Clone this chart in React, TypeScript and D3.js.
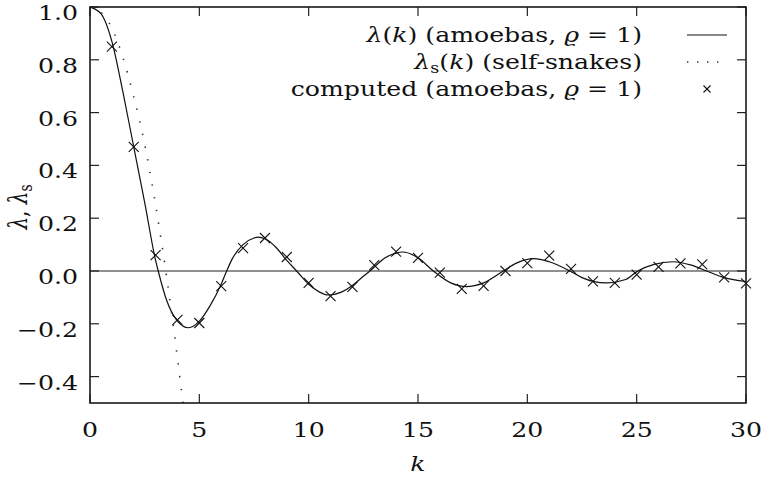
import { useEffect } from "react";
import * as d3 from "d3";

// lambda(k), amoebas, rho = 1 (solid curve)
const lambdaK = [0, 0.5, 1, 1.5, 2, 2.5, 3, 3.12, 3.5, 4, 4.5, 5, 5.5, 6, 6.25, 6.5, 7, 7.5, 7.7, 8, 8.5, 9, 9.45, 10, 10.5, 10.9, 11.5, 12, 12.5, 12.8, 13.5, 14, 14.3, 15, 15.7, 16.5, 17.2, 18, 18.9, 19.5, 20.3, 21, 21.95, 22.5, 23.6, 24.5, 25.05, 25.8, 26.65, 27.5, 28.2, 29, 30];
const lambdaV = [1.0, 0.975, 0.87, 0.68, 0.47, 0.26, 0.04, 0, -0.11, -0.19, -0.215, -0.19, -0.13, -0.05, 0, 0.045, 0.1, 0.125, 0.128, 0.122, 0.09, 0.04, 0, -0.05, -0.08, -0.091, -0.08, -0.055, -0.02, 0, 0.05, 0.068, 0.072, 0.05, 0, -0.045, -0.059, -0.045, 0, 0.03, 0.047, 0.035, 0, -0.025, -0.045, -0.032, 0, 0.025, 0.035, 0.022, 0, -0.025, -0.04];

// lambda_s(k), self-snakes (dotted curve)
const selfK = [0, 0.5, 1, 1.5, 2, 2.5, 3, 3.5, 4, 4.25, 4.4];
const selfV = [1.0, 0.98, 0.92, 0.81, 0.66, 0.48, 0.25, -0.02, -0.33, -0.5, -0.6];

// computed values (crosses)
const compK = [1, 2, 3, 4, 5, 6, 7, 8, 9, 10, 11, 12, 13, 14, 15, 16, 17, 18, 19, 20, 21, 22, 23, 24, 25, 26, 27, 28, 29, 30];
const compV = [0.85, 0.47, 0.06, -0.185, -0.197, -0.057, 0.087, 0.125, 0.053, -0.045, -0.095, -0.06, 0.022, 0.073, 0.05, -0.006, -0.068, -0.056, 0.0, 0.03, 0.058, 0.008, -0.039, -0.045, -0.014, 0.016, 0.029, 0.025, -0.024, -0.047];

const xTicks = [0, 5, 10, 15, 20, 25, 30];
const yTicks = [-0.4, -0.2, 0.0, 0.2, 0.4, 0.6, 0.8, 1.0];

const W = 762;
const H = 480;
const L = 90, R = 746, T = 7, B = 403;
const SX = 1.26; // horizontal stretch of glyphs
const FONT = "DejaVu Serif";
const FS = 20;
const TICK = 9;

function Txt({ x, y, anchor = "start", children, size = FS }: any) {
  return (
    <text
      transform={`translate(${x},${y}) scale(${SX},1)`}
      textAnchor={anchor}
      fontFamily={FONT}
      fontSize={size}
      fill="#111"
    >
      {children}
    </text>
  );
}

function Cross({ x, y, s = 5 }: any) {
  return (
    <g stroke="#111" strokeWidth={1.1}>
      <line x1={x - s} y1={y - s} x2={x + s} y2={y + s} />
      <line x1={x - s} y1={y + s} x2={x + s} y2={y - s} />
    </g>
  );
}

export default function App() {
  useEffect(() => {
    document.body.style.margin = "0";
  }, []);

  const x = d3.scaleLinear().domain([0, 30]).range([L, R]);
  const y = d3.scaleLinear().domain([-0.5, 1.0]).range([B, T]);

  const line = d3
    .line<[number, number]>()
    .x((d) => x(d[0]))
    .y((d) => y(d[1]))
    .curve(d3.curveMonotoneX);

  const lambdaPath = line(lambdaK.map((k, i) => [k, lambdaV[i]]) as [number, number][]) || "";
  const selfPath = line(selfK.map((k, i) => [k, selfV[i]]) as [number, number][]) || "";

  const fmt = (v: number) => (v < 0 ? "\u2212" : "") + Math.abs(v).toFixed(1);

  const rows = [42, 69, 96];
  const textRight = 642;
  const sx1 = 687, sx2 = 727;

  return (
    <svg width={W} height={H} style={{ position: "absolute", left: 0, top: 0, background: "#fff" }}>
      <defs>
        <clipPath id="plot">
          <rect x={L} y={T} width={R - L} height={B - T} />
        </clipPath>
      </defs>

      {/* zero axis */}
      <line x1={L} x2={R} y1={y(0)} y2={y(0)} stroke="#222" strokeWidth={1.2} />

      {/* curves */}
      <g clipPath="url(#plot)">
        <path d={lambdaPath} fill="none" stroke="#111" strokeWidth={1.2} />
        <path d={selfPath} fill="none" stroke="#333" strokeWidth={1.6} strokeDasharray="1.4 11.5" />
      </g>

      {compK.map((k, i) => (
        <Cross key={k} x={x(k)} y={y(compV[i])} />
      ))}

      {/* ticks */}
      <g stroke="#222" strokeWidth={1.2}>
        {xTicks.map((t) => (
          <g key={"xt" + t}>
            <line x1={x(t)} x2={x(t)} y1={B} y2={B - TICK} />
            <line x1={x(t)} x2={x(t)} y1={T} y2={T + TICK} />
          </g>
        ))}
        {yTicks.map((t) => (
          <g key={"yt" + t}>
            <line x1={L} x2={L + TICK} y1={y(t)} y2={y(t)} />
            <line x1={R} x2={R - TICK} y1={y(t)} y2={y(t)} />
          </g>
        ))}
      </g>

      {/* frame */}
      <rect x={L} y={T} width={R - L} height={B - T} fill="none" stroke="#1a1a1a" strokeWidth={1.6} />

      {/* tick labels */}
      {xTicks.map((t) => (
        <Txt key={"xl" + t} x={x(t)} y={437} anchor="middle">
          {String(t)}
        </Txt>
      ))}
      {yTicks.map((t) => (
        <Txt key={"yl" + t} x={78} y={y(t) + 13} anchor="end">
          {fmt(t)}
        </Txt>
      ))}

      {/* axis titles */}
      <Txt x={x(15)} y={471} anchor="middle">
        <tspan fontStyle="italic">k</tspan>
      </Txt>
      <text
        transform={`translate(27,207) rotate(-90) scale(1,${SX})`}
        textAnchor="middle"
        fontFamily={FONT}
        fontSize={FS}
        fill="#111"
      >
        <tspan fontStyle="italic">λ</tspan>,{" "}
        <tspan fontStyle="italic">λ</tspan>
        <tspan fontSize={14} dy={4}>s</tspan>
      </text>

      {/* legend */}
      <Txt x={textRight} y={rows[0]} anchor="end">
        <tspan fontStyle="italic">λ</tspan>(<tspan fontStyle="italic">k</tspan>) (amoebas,{" "}
        <tspan fontStyle="italic">ϱ</tspan> = 1)
      </Txt>
      <Txt x={textRight} y={rows[1]} anchor="end">
        <tspan fontStyle="italic">λ</tspan>
        <tspan fontSize={14} dy={4}>s</tspan>
        <tspan dy={-4}>(</tspan>
        <tspan fontStyle="italic">k</tspan>) (self-snakes)
      </Txt>
      <Txt x={textRight} y={rows[2]} anchor="end">
        computed (amoebas, <tspan fontStyle="italic">ϱ</tspan> = 1)
      </Txt>

      <line x1={sx1} x2={sx2} y1={rows[0] - 7} y2={rows[0] - 7} stroke="#111" strokeWidth={1.2} />
      <line x1={sx1} x2={sx2} y1={rows[1] - 7} y2={rows[1] - 7} stroke="#333" strokeWidth={1.6} strokeDasharray="1.4 8.6" />
      <Cross x={(sx1 + sx2) / 2} y={rows[2] - 7} s={3.5} />
    </svg>
  );
}
